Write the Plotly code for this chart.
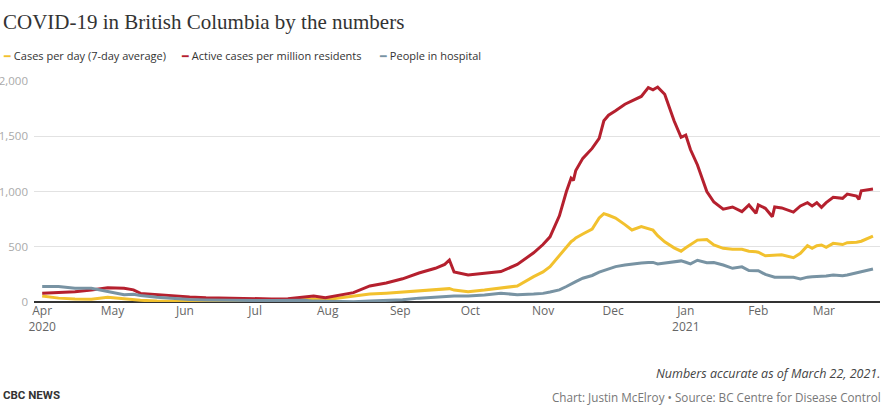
import plotly.graph_objects as go

dates = [
    "2020-04-01", "2020-04-08", "2020-04-15", "2020-04-22", "2020-04-29",
    "2020-05-06", "2020-05-10", "2020-05-13", "2020-05-20", "2020-05-27",
    "2020-06-03", "2020-06-10", "2020-06-17", "2020-06-24", "2020-07-01",
    "2020-07-08", "2020-07-15", "2020-07-22", "2020-07-26", "2020-07-31",
    "2020-08-05", "2020-08-12", "2020-08-19", "2020-08-26", "2020-09-02",
    "2020-09-09", "2020-09-16", "2020-09-20", "2020-09-22", "2020-09-24",
    "2020-09-30", "2020-10-07", "2020-10-14", "2020-10-21", "2020-10-28",
    "2020-11-01", "2020-11-04", "2020-11-08", "2020-11-11", "2020-11-13",
    "2020-11-14", "2020-11-15", "2020-11-18", "2020-11-22", "2020-11-25",
    "2020-11-27", "2020-11-29", "2020-12-02", "2020-12-06", "2020-12-09",
    "2020-12-13", "2020-12-16", "2020-12-18", "2020-12-20", "2020-12-23",
    "2020-12-27", "2020-12-30", "2021-01-01", "2021-01-03", "2021-01-06",
    "2021-01-10", "2021-01-13", "2021-01-17", "2021-01-21", "2021-01-25",
    "2021-01-28", "2021-01-31", "2021-02-01", "2021-02-04", "2021-02-07",
    "2021-02-08", "2021-02-11", "2021-02-16", "2021-02-19", "2021-02-22",
    "2021-02-24", "2021-02-26", "2021-02-28", "2021-03-02", "2021-03-05",
    "2021-03-09", "2021-03-11", "2021-03-15", "2021-03-16", "2021-03-17",
    "2021-03-22",
]

cases_per_day = [
    55, 35, 27, 25, 42, 28, 18, 15, 9, 6,
    4, 3, 3, 3, 3, 8, 18, 25, 27, 20,
    33, 50, 72, 80, 90, 105, 115, 120, 121, 108,
    93, 108, 124, 145, 230, 272, 320, 425, 500, 546,
    560, 580, 615, 660, 760, 800, 785, 760, 700, 652,
    682, 665, 650, 600, 545, 490, 460, 490, 516, 560,
    565, 516, 486, 477, 477, 460, 455, 450, 418, 425,
    425, 428, 401, 440, 510, 486, 510, 516, 495, 531,
    520, 537, 540, 545, 550, 597,
]

active_per_million = [
    80, 85, 92, 108, 128, 125, 110, 78, 65, 55,
    45, 38, 35, 33, 30, 28, 30, 45, 55, 38,
    55, 85, 145, 172, 210, 262, 305, 340, 380, 272,
    245, 262, 275, 340, 445, 520, 590, 780, 1000, 1120,
    1100, 1190, 1300, 1390, 1480, 1640, 1690, 1730, 1790, 1820,
    1860, 1940, 1920, 1945, 1880, 1640, 1490, 1510, 1380, 1240,
    1000, 905, 840, 860, 818, 878, 803, 878, 848, 772,
    860, 851, 813, 869, 899, 869, 899, 857, 899, 947,
    938, 977, 959, 929, 1007, 1022,
]

in_hospital = [
    140, 140, 125, 125, 95, 65, 70, 58, 42, 30,
    22, 18, 15, 14, 13, 14, 15, 16, 8, 6,
    4, 3, 8, 14, 20, 35, 45, 52, 54, 54,
    54, 63, 80, 65, 72, 78, 90, 110, 140, 165,
    170, 185, 215, 240, 270, 285, 295, 320, 335, 344,
    352, 358, 358, 345, 355, 365, 372, 360, 345, 378,
    356, 358, 335, 305, 318, 285, 283, 283, 250, 230,
    225, 223, 223, 208, 225, 229, 229, 229, 235, 244,
    238, 244, 262, 268, 275, 298,
]

month_ticks = [
    "2020-04-01", "2020-05-01", "2020-06-01", "2020-07-01", "2020-08-01",
    "2020-09-01", "2020-10-01", "2020-11-01", "2020-12-01", "2021-01-01",
    "2021-02-01", "2021-03-01",
]
month_labels = [
    "Apr<br>2020", "May", "Jun", "Jul", "Aug", "Sep", "Oct", "Nov", "Dec",
    "Jan<br>2021", "Feb", "Mar",
]

y_ticks = [0, 500, 1000, 1500, 2000]
y_labels = ["0", "500", "1,000", "1,500", "2,000"]

series = [
    ("Cases per day (7-day average)", cases_per_day, "#f2c12e"),
    ("Active cases per million residents", active_per_million, "#b5202e"),
    ("People in hospital", in_hospital, "#7893a3"),
]

W, H = 896, 409
L, R, T, B = 34, 16, 81, 107


def px_x(px):
    # page pixel -> paper x
    return (px - L) / (W - L - R)


def px_y(py):
    # page pixel -> paper y
    return (H - B - py) / (H - T - B)


fig = go.Figure()
for name, vals, color in series:
    fig.add_trace(
        go.Scatter(
            x=dates,
            y=vals,
            mode="lines",
            name=name,
            line=dict(color=color, width=3),
        )
    )

annotations = [
    dict(
        text="COVID-19 in British Columbia by the numbers",
        x=px_x(1), y=px_y(22), xanchor="left", yanchor="middle",
        font=dict(family="Liberation Serif", size=21, color="#333"),
    ),
    dict(
        text="<i>Numbers accurate as of March 22, 2021.</i>",
        x=px_x(882), y=px_y(373), xanchor="right", yanchor="middle",
        font=dict(family="Open Sans", size=12.5, color="#444"),
    ),
    dict(
        text="Chart: Justin McElroy • Source: BC Centre for Disease Control",
        x=px_x(883), y=px_y(397), xanchor="right", yanchor="middle",
        font=dict(family="Open Sans", size=11.7, color="#777"),
    ),
    dict(
        text="<b>CBC NEWS</b>",
        x=px_x(1), y=px_y(395), xanchor="left", yanchor="middle",
        font=dict(family="Roboto", size=11.5, color="#333"),
    ),
]

legend_x = [1, 179, 377]
for (name, _, color), lx in zip(series, legend_x):
    annotations.append(
        dict(
            text=f"<span style='color:{color}'>━</span> {name}",
            x=px_x(lx), y=px_y(56), xanchor="left", yanchor="middle",
            font=dict(family="Open Sans", size=11, color="#333"),
        )
    )

for a in annotations:
    a.update(xref="paper", yref="paper", showarrow=False)

fig.update_layout(
    width=W,
    height=H,
    margin=dict(l=L, r=R, t=T, b=B),
    paper_bgcolor="white",
    plot_bgcolor="white",
    showlegend=False,
    font=dict(family="Open Sans", size=12, color="#666"),
    xaxis=dict(
        range=["2020-03-28 12:00", "2021-03-25"],
        tickvals=month_ticks,
        ticktext=month_labels,
        showgrid=False,
        showline=False,
        ticks="",
        tickfont=dict(size=12, color="#666"),
    ),
    yaxis=dict(
        range=[0, 2000],
        tickvals=y_ticks,
        ticktext=y_labels,
        gridcolor="#e2e2e2",
        zeroline=True,
        zerolinecolor="#333",
        zerolinewidth=1.5,
        tickfont=dict(size=11.5, color="#aaa"),
        ticklabelstandoff=5,
        automargin=False,
    ),
    annotations=annotations,
)

fig.write_html(
    "out.html",
    config={"displayModeBar": False},
    post_script="document.body.style.margin='0';",
)
